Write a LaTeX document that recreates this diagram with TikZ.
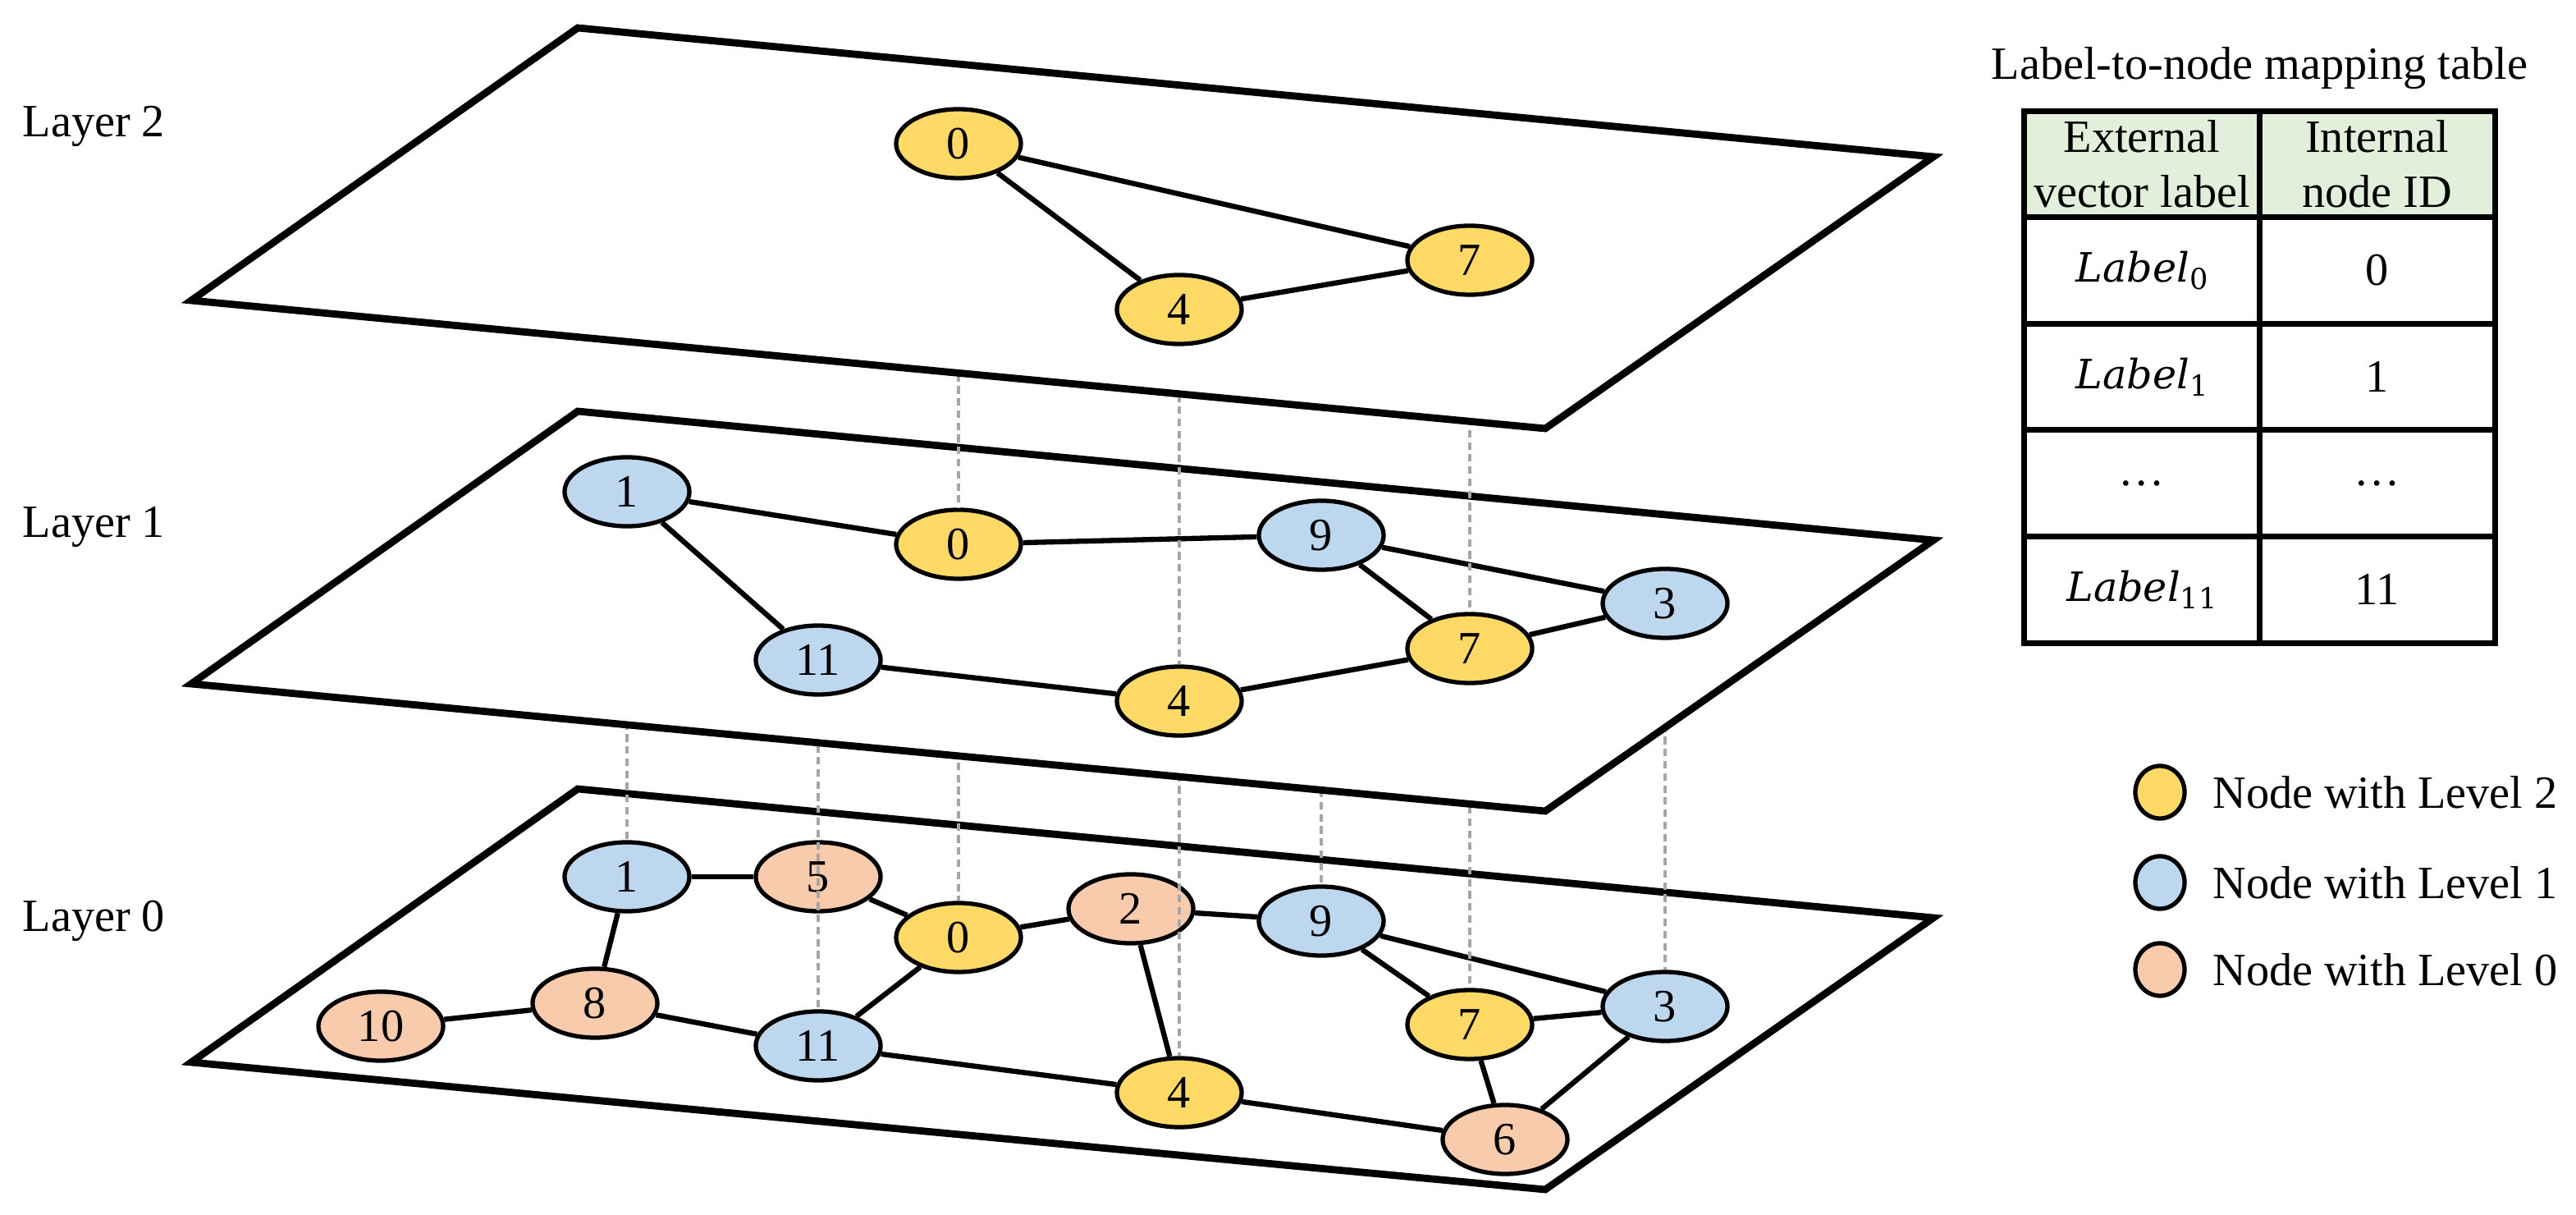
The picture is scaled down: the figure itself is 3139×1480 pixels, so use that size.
\documentclass[tikz,border=0pt]{standalone}
\usepackage{fontspec}
\setmainfont{Liberation Serif}
\newfontfamily\cambfont{DejaVu Serif}
\newcommand{\lbltxt}[1]{{\cambfont\fontsize{14}{16}\selectfont\itshape Label}\raisebox{-0.35ex}{\cambfont\fontsize{10}{10}\selectfont #1}}
\usetikzlibrary{shapes.geometric,positioning}
\definecolor{goldnode}{HTML}{FFD966}
\definecolor{bluenode}{HTML}{BDD7EE}
\definecolor{peachnode}{HTML}{F8CBAD}
\definecolor{headgreen}{HTML}{E2EFDA}
\definecolor{dashgray}{HTML}{A6A6A6}
\begin{document}
\begin{tikzpicture}[x=0.01cm, y=-0.01cm, font=\fontsize{16}{19}\selectfont,
    plane/.style={draw, fill=white, line width=2.5pt, line join=miter},
    edge/.style={line width=1.8pt},
    vline/.style={draw=dashgray, line width=1.2pt, dash pattern=on 2.6pt off 1.6pt},
    nd/.style={ellipse, draw, line width=1.5pt, minimum width=1.52cm, minimum height=0.84cm, inner sep=0pt},
    lvtwo/.style={nd, fill=goldnode},
    lvone/.style={nd, fill=bluenode},
    lvzero/.style={nd, fill=peachnode},
    lbl/.style={anchor=west, inner sep=0pt},
    cell/.style={draw, line width=2pt, outer sep=0pt, minimum width=2.865cm, minimum height=1.295cm, inner sep=0pt, align=center},
    key/.style={ellipse, draw, line width=1.5pt, minimum width=0.6cm, minimum height=0.64cm, inner sep=0pt}]
  \useasboundingbox (0,0) rectangle (3139,1480);

  % layer 0
  \draw[plane] (704,961) -- (2356,1118) -- (1883,1449) -- (233,1294) -- cycle;
  \node[lbl] (ly0) at (27,1122) {Layer 0};
  \node[lvone] (L0n1) at (764,1068) {1};
  \node[lvzero] (L0n5) at (997,1068) {5};
  \node[lvtwo] (L0n0) at (1168,1142) {0};
  \node[lvzero] (L0n2) at (1378,1107) {2};
  \node[lvone] (L0n9) at (1610,1122) {9};
  \node[lvzero] (L0n10) at (464,1250) {10};
  \node[lvzero] (L0n8) at (725,1222) {8};
  \node[lvone] (L0n11) at (997,1274) {11};
  \node[lvtwo] (L0n7) at (1791,1248) {7};
  \node[lvone] (L0n3) at (2029,1226) {3};
  \node[lvtwo] (L0n4) at (1437,1331) {4};
  \node[lvzero] (L0n6) at (1834,1388) {6};
  \draw[edge] (L0n1) -- (L0n5); \draw[edge] (L0n5) -- (L0n0);
  \draw[edge] (L0n0) -- (L0n2); \draw[edge] (L0n2) -- (L0n9);
  \draw[edge] (L0n9) -- (L0n3); \draw[edge] (L0n9) -- (L0n7);
  \draw[edge] (L0n7) -- (L0n3); \draw[edge] (L0n1) -- (L0n8);
  \draw[edge] (L0n8) -- (L0n10); \draw[edge] (L0n8) -- (L0n11);
  \draw[edge] (L0n11) -- (L0n0); \draw[edge] (L0n11) -- (L0n4);
  \draw[edge] (L0n2) -- (L0n4); \draw[edge] (L0n4) -- (L0n6);
  \draw[edge] (L0n7) -- (L0n6); \draw[edge] (L0n3) -- (L0n6);

  % where the layer 1 nodes sit, and their links down
  \coordinate (L1p1) at (764,599);
  \coordinate (L1p0) at (1168,663);
  \coordinate (L1p9) at (1610,652);
  \coordinate (L1p3) at (2029,735);
  \coordinate (L1p11) at (997,804);
  \coordinate (L1p7) at (1791,790);
  \coordinate (L1p4) at (1437,854);
  \draw[vline] (L1p1) -- (L0n1.north);
  \draw[vline] (L1p11) -- (L0n11.north);
  \draw[vline] (L1p0) -- (L0n0.north);
  \draw[vline] (L1p4) -- (L0n4.north);
  \draw[vline] (L1p9) -- (L0n9.north);
  \draw[vline] (L1p7) -- (L0n7.north);
  \draw[vline] (L1p3) -- (L0n3.north);

  % layer 1
  \draw[plane] (704,501) -- (2356,658) -- (1883,988) -- (233,833) -- cycle;
  \node[lbl] (ly1) at (27,642) {Layer 1};
  \node[lvone] (L1n1) at (L1p1) {1};
  \node[lvtwo] (L1n0) at (L1p0) {0};
  \node[lvone] (L1n9) at (L1p9) {9};
  \node[lvone] (L1n3) at (L1p3) {3};
  \node[lvone] (L1n11) at (L1p11) {11};
  \node[lvtwo] (L1n7) at (L1p7) {7};
  \node[lvtwo] (L1n4) at (L1p4) {4};
  \draw[edge] (L1n1) -- (L1n0); \draw[edge] (L1n0) -- (L1n9);
  \draw[edge] (L1n9) -- (L1n3); \draw[edge] (L1n1) -- (L1n11);
  \draw[edge] (L1n11) -- (L1n4); \draw[edge] (L1n4) -- (L1n7);
  \draw[edge] (L1n9) -- (L1n7); \draw[edge] (L1n7) -- (L1n3);

  % where the layer 2 nodes sit, and their links down
  \coordinate (L2p0) at (1168,175);
  \coordinate (L2p4) at (1437,377);
  \coordinate (L2p7) at (1791,317);
  \draw[vline] (L2p0) -- (L1n0.north);
  \draw[vline] (L2p4) -- (L1n4.north);
  \draw[vline] (L2p7) -- (L1n7.north);

  % layer 2
  \draw[plane] (704,34) -- (2356,191) -- (1883,522) -- (233,366) -- cycle;
  \node[lbl] (ly2) at (27,154) {Layer 2};
  \node[lvtwo] (L2n0) at (L2p0) {0};
  \node[lvtwo] (L2n4) at (L2p4) {4};
  \node[lvtwo] (L2n7) at (L2p7) {7};
  \draw[edge] (L2n0) -- (L2n4); \draw[edge] (L2n0) -- (L2n7);
  \draw[edge] (L2n4) -- (L2n7);

  % mapping table
  \node[cell, fill=headgreen] (h1) at (2610,200) {External\\vector label};
  \node[cell, fill=headgreen, right=0pt of h1] (h2) {Internal\\node ID};
  \node[cell, below=0pt of h1] (r1a) {\lbltxt{0}};
  \node[cell, right=0pt of r1a] (r1b) {0};
  \node[cell, below=0pt of r1a] (r2a) {\lbltxt{1}};
  \node[cell, right=0pt of r2a] (r2b) {1};
  \node[cell, below=0pt of r2a] (r3a) {\dots};
  \node[cell, right=0pt of r3a] (r3b) {\dots};
  \node[cell, below=0pt of r3a] (r4a) {\lbltxt{11}};
  \node[cell, right=0pt of r4a] (r4b) {11};
  \node[above=0.14cm of h1.north east] (ttl) {Label-to-node mapping table};

  % legend
  \node[key, fill=goldnode] (k2) at (2632,965) {};
  \node[key, fill=bluenode] (k1) at (2632,1075) {};
  \node[key, fill=peachnode] (k0) at (2632,1181) {};
  \node[lbl, right=0.31cm of k2] (t2) {Node with Level 2};
  \node[lbl, right=0.31cm of k1] (t1) {Node with Level 1};
  \node[lbl, right=0.31cm of k0] (t0) {Node with Level 0};
\end{tikzpicture}
\end{document}
